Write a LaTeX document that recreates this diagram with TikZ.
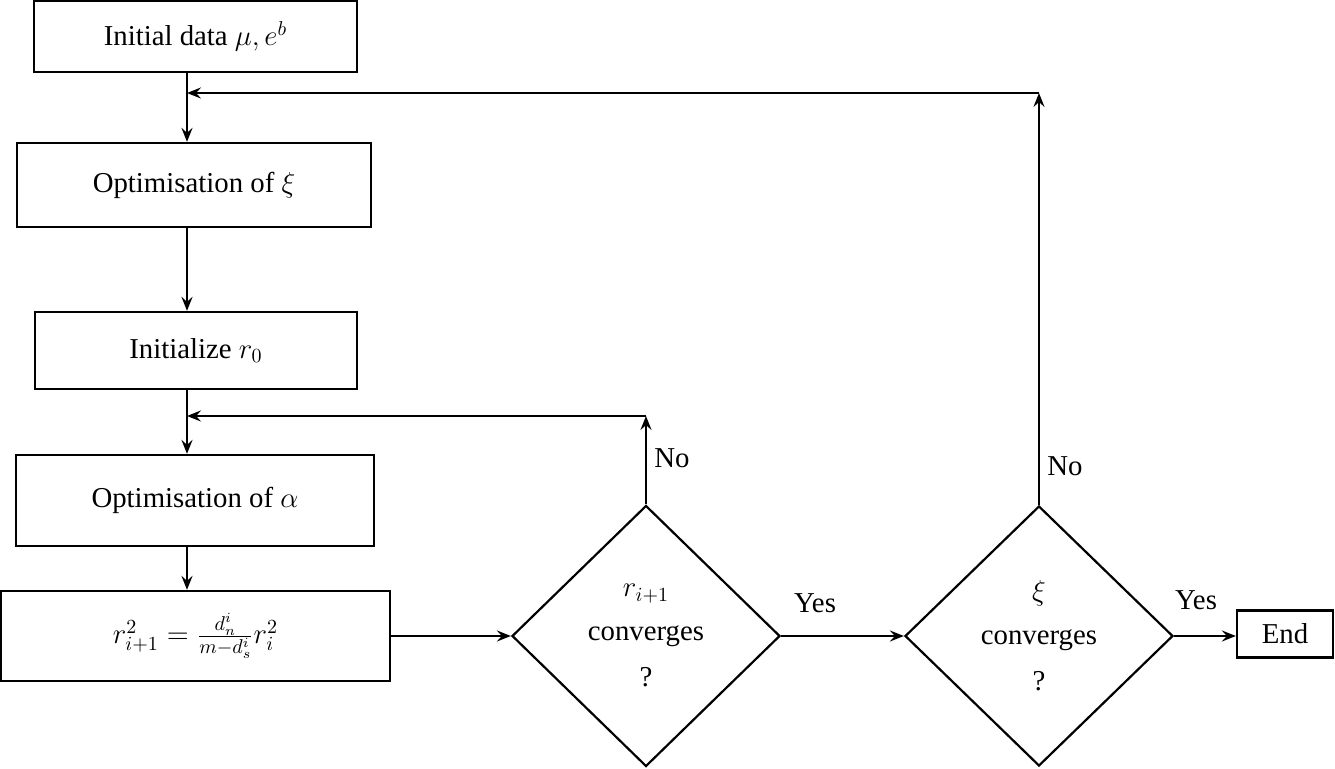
\documentclass[tikz,border=0pt]{standalone}
\usepackage{fontspec}
\setmainfont{Liberation Serif}
\usetikzlibrary{shapes.geometric,arrows.meta}
\begin{document}
\begin{tikzpicture}[x=0.5pt,y=-0.5pt,font=\Large,
  box/.style={draw,line width=1.1pt,inner sep=0pt,align=center},
  dec/.style={draw,diamond,line width=1.1pt,inner sep=0pt,align=center},
  arr/.style={-{Stealth[length=7pt,width=5.5pt,inset=2.5pt]},line width=1.1pt},
  lab/.style={inner sep=0pt}]
\useasboundingbox (0,0) rectangle (1335,769);
\node[box,minimum width=161.5pt,minimum height=35.5pt] (init) at (195.5,36.5) {Initial data $\mu, e^b$};
\node[box,minimum width=177pt,minimum height=42pt] (optxi) at (194,185) {Optimisation of $\xi$};
\node[box,minimum width=161pt,minimum height=38.5pt] (initr) at (196,350.5) {Initialize $r_0$};
\node[box,minimum width=179pt,minimum height=45.5pt] (optal) at (195,500.5) {Optimisation of $\alpha$};
\node[box,minimum width=194.5pt,minimum height=45pt] (upd) at (195.5,636) {$r_{i+1}^2 = \frac{d_n^i}{m-d_s^i} r_i^2$};
\node[dec,minimum width=134pt,minimum height=130.5pt] (c1) at (646,636) {$r_{i+1}$\\[4pt] converges\\[5pt] ?};
\node[dec,minimum width=134pt,minimum height=130pt] (c2) at (1039,636) {$\xi$\\[4pt] converges\\[5pt] ?};
\node[box,minimum width=48pt,minimum height=23.5pt] (end) at (1285,634) {End};
\node[lab] (yes1) at (815,603) {Yes};
\node[lab] (yes2) at (1196,600) {Yes};
\node[lab] (no1) at (672,458) {No};
\node[lab] (no2) at (1065,466) {No};
\coordinate (sp) at (187,0);
\coordinate (k1) at (645,416);
\coordinate (k2) at (1040,93);
\draw[arr] (init.south -| sp) -- (optxi.north -| sp);
\draw[arr] (optxi.south -| sp) -- (initr.north -| sp);
\draw[arr] (initr.south -| sp) -- (optal.north -| sp);
\draw[arr] (optal.south -| sp) -- (upd.north -| sp);
\draw[arr] (upd.east) -- (c1.west);
\draw[arr] (c1.east) -- (c2.west);
\draw[arr] (c2.east) -- (end.west |- c2.east);
\draw[arr] (c1.north) -- (c1.north |- k1);
\draw[arr] (c1.north |- k1) -- (k1 -| sp);
\draw[arr] (c2.north) -- (c2.north |- k2);
\draw[arr] (c2.north |- k2) -- (k2 -| sp);
\end{tikzpicture}
\end{document}
